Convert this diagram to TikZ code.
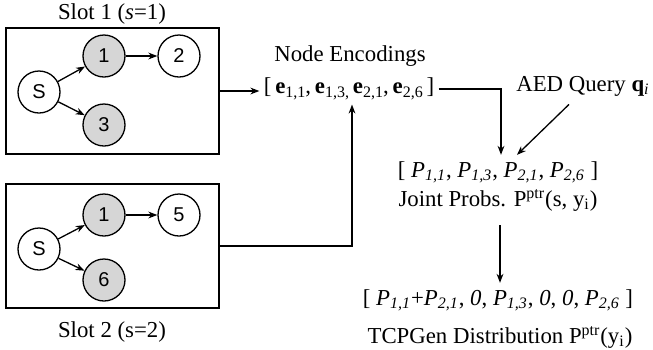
\documentclass[tikz,border=0pt]{standalone}
\usepackage{fontspec}
\setmainfont{Liberation Serif}
\newfontfamily\nodefont{Liberation Sans}
\usetikzlibrary{arrows.meta,calc}
\newcommand{\esub}[1]{\textbf{e}{\fontsize{8}{9}\selectfont\raisebox{-0.25em}{#1}}}
\begin{document}
\begin{tikzpicture}[x=0.5pt,y=-0.5pt,
  every node/.style={font=\fontsize{11.4}{13.7}\selectfont},
  conn/.style={line width=0.65pt,-{Stealth[length=4.5pt,width=3.4pt]}},
  slotbox/.style={draw,line width=0.7pt,minimum width=106.5pt,inner sep=0pt},
  gnode/.style={circle,draw,line width=0.65pt,minimum size=21pt,inner sep=0pt,font=\nodefont\fontsize{10}{11}\selectfont},
  gray/.style={gnode,fill=black!16},
  lbl/.style={inner sep=1pt}
]
\useasboundingbox (0,0) rectangle (653,349);
% boxes
\node[slotbox,minimum height=63pt] (box1) at (112.5,91) {};
\node[slotbox,minimum height=62pt] (box2) at (112.5,246) {};
\node[lbl] (slot1) at (112,14) {Slot 1 (\textit{s}=1)};
\node[lbl] (slot2) at (112,332) {Slot 2 (s=2)};
% graph 1
\node[gnode] (s1) at (39,92) {S};
\node[gray] (a1) at (104,56) {1};
\node[gnode] (a2) at (179,56) {2};
\node[gray] (a3) at (104,125) {3};
\draw[conn] (s1) -- (a1);
\draw[conn] (s1) -- (a3);
\draw[conn] (a1) -- (a2);
% graph 2
\node[gnode] (s2) at (39,249) {S};
\node[gray] (b1) at (104,215) {1};
\node[gnode] (b5) at (179,215) {5};
\node[gray] (b6) at (104,280) {6};
\draw[conn] (s2) -- (b1);
\draw[conn] (s2) -- (b6);
\draw[conn] (b1) -- (b5);
% encodings
\node[lbl] (enctitle) at (350,56) {Node Encodings};
\node[inner sep=2pt] (enc) at (349,89) {\spaceskip=0.17em [ \esub{1,1}, \esub{1,3,} \esub{2,1}, \esub{2,6} ]};
\draw[conn] (box1.east) -- (box1.east -| enc.west);
\draw[conn] (box2.east) -| ($(enc.south)+(3,0)$);
% AED query
\node[lbl] (aed) at (583,86) {AED Query \textbf{q}\textsubscript{\textit{i}}};
% joint
\node[inner sep=3pt] (joint) at (498,172) {[ \textit{P}\textsubscript{\textit{1,1}}, \textit{P}\textsubscript{\textit{1,3}}, \textit{P}\textsubscript{\textit{2,1}}, \textit{P}\textsubscript{\textit{2,6}} ]};
\node[inner sep=1pt] (jlabel) at (498,200) {Joint Probs. P\textsuperscript{ptr}(s, y\textsubscript{i})};
\draw[conn] (enc.east) -| ($(joint.north)+(3,0)$);
\draw[conn] ($(aed.south)+(-14,6)$) -- ($(joint.north)+(19,0)$);
% final
\node[inner sep=3pt] (final) at (498,300) {[ \textit{P}\textsubscript{\textit{1,1}}+\textit{P}\textsubscript{\textit{2,1}}, \textit{0}, \textit{P}\textsubscript{\textit{1,3}}, \textit{0}, \textit{0}, \textit{P}\textsubscript{\textit{2,6}} ]};
\node[inner sep=1pt] (tcp) at (500,337) {TCPGen Distribution P\textsuperscript{ptr}(y\textsubscript{i})};
\draw[conn] ($(jlabel.south)+(2,12)$) -- ($(final.north)+(2,0)$);
\end{tikzpicture}
\end{document}
